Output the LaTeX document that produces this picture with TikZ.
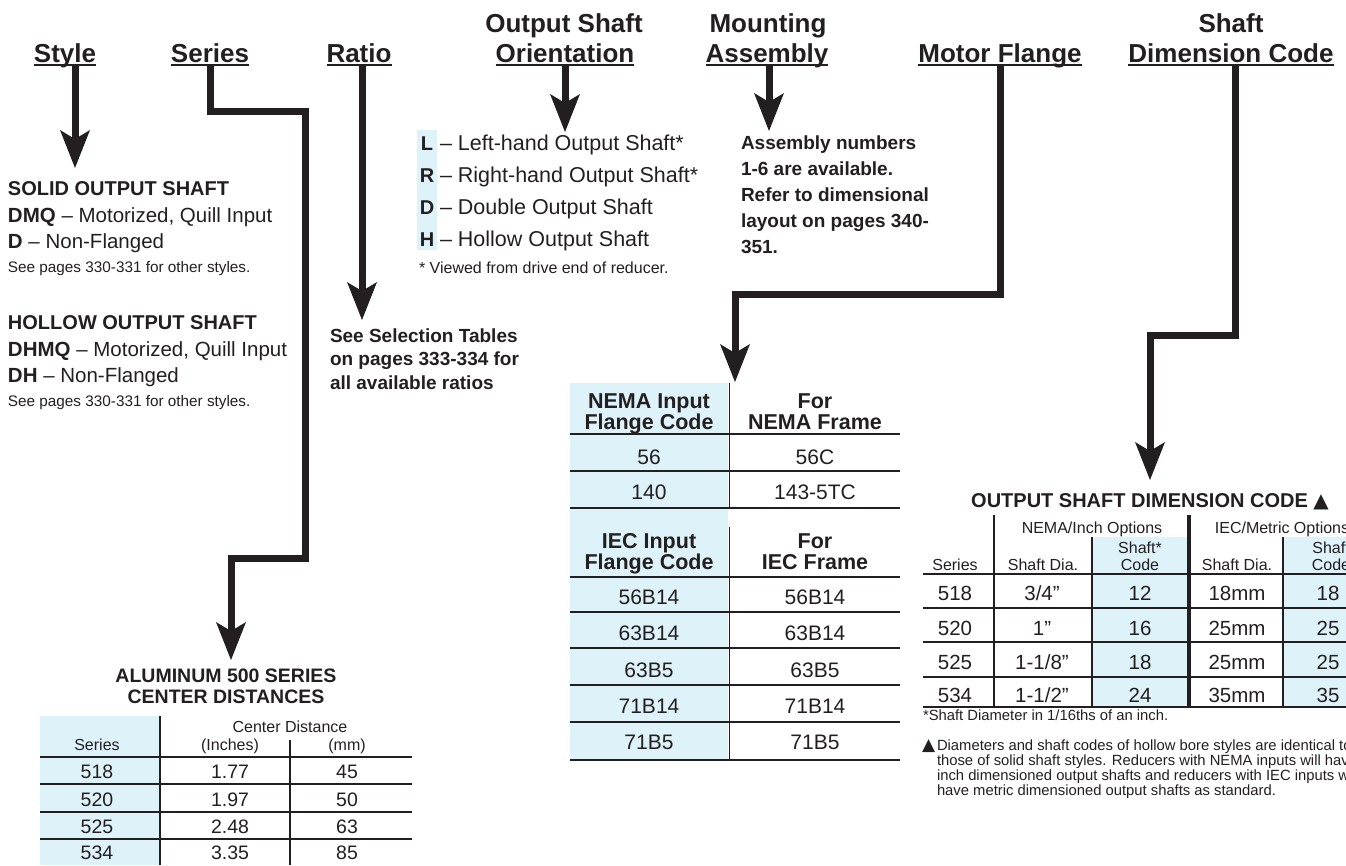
\documentclass[tikz,border=0pt]{standalone}
\usepackage{fontspec}
\setmainfont{Liberation Sans}
\newfontfamily\symf{DejaVu Sans}
\usetikzlibrary{arrows.meta}
\definecolor{ink}{RGB}{35,31,32}
\definecolor{lblue}{RGB}{222,242,250}
\tikzset{
  every node/.style={inner sep=0pt,outer sep=0pt,text=ink},
  hd/.style={font=\fontsize{26}{30}\selectfont\bfseries,anchor=base},
  uline/.style={draw=ink,line width=1.6pt},
  conn/.style={draw=ink,line width=7pt,line join=miter,-{Stealth[length=38pt,width=30pt,inset=9pt,line width=0pt]}},
  body/.style={font=\fontsize{20.5}{24}\selectfont,anchor=base west},
  bodyo/.style={font=\fontsize{21.5}{24}\selectfont,anchor=base west},
  bodyb/.style={font=\fontsize{20}{24}\selectfont\bfseries,anchor=base west},
  noteb/.style={font=\fontsize{19}{24}\selectfont\bfseries,anchor=base west},
  smalltxt/.style={font=\fontsize{15.3}{16}\selectfont,anchor=base west},
  viewtxt/.style={font=\fontsize{16}{18}\selectfont,anchor=base west},
  fntxt/.style={font=\fontsize{14.8}{16}\selectfont,anchor=base west},
  th/.style={font=\fontsize{21.5}{24}\selectfont\bfseries,anchor=base},
  td/.style={font=\fontsize{21}{24}\selectfont,anchor=center},
  sh/.style={font=\fontsize{16}{18}\selectfont,anchor=base},
  rd/.style={font=\fontsize{20.5}{24}\selectfont,anchor=center},
  ad/.style={font=\fontsize{19.5}{24}\selectfont,anchor=center},
  ttl/.style={font=\fontsize{19.5}{24}\selectfont\bfseries,anchor=base},
  rulek/.style={draw=ink,line width=2.2pt},
  rulet/.style={draw=ink,line width=1.1pt},
  vline/.style={draw=ink,line width=1.5pt},
}
\begin{document}
\begin{tikzpicture}[x=1pt,y=-1pt]
\useasboundingbox (0,0) rectangle (1346,865);
\begin{scope}
\clip (0,0) rectangle (1346,865);
% light blue fills
\fill[lblue] (417,130) rectangle (437,250);
\fill[lblue] (570,383) rectangle (728,760);
\fill[lblue] (1092,537) rectangle (1187,707);
\fill[lblue] (1283,537) rectangle (1346,707);
\fill[lblue] (40,716) rectangle (160,865);

% headers
\node[hd] (hStyle) at (65,62) {Style};
\node[hd] (hSeries) at (210,62) {Series};
\node[hd] (hRatio) at (359,62) {Ratio};
\node[hd] (hOrientA) at (564,32) {Output Shaft};
\node[hd] (hOrient) at (565,62) {Orientation};
\node[hd] (hAssemA) at (768,32) {Mounting};
\node[hd] (hAssem) at (767,62) {Assembly};
\node[hd] (hMotor) at (1000,62) {Motor Flange};
\node[hd] (hDimA) at (1231,32) {Shaft};
\node[hd] (hDim) at (1231,62) {Dimension Code};
\foreach \n in {hStyle,hSeries,hRatio,hOrient,hAssem,hMotor,hDim}
  \draw[uline] ([yshift=-3pt]\n.base west) -- ([yshift=-3pt]\n.base east);

% connectors
\coordinate (sStyle) at (75,64);   \coordinate (tStyle) at (75,168);
\coordinate (sSeries) at (210,64); \coordinate (bSeriesA) at (305,111);
\coordinate (bSeriesB) at (231,558); \coordinate (tSeries) at (231,660);
\coordinate (sRatio) at (362,64);  \coordinate (tRatio) at (362,320);
\coordinate (sOrient) at (565,64); \coordinate (tOrient) at (565,132);
\coordinate (sAssem) at (769,64);  \coordinate (tAssem) at (769,131);
\coordinate (sMotor) at (1000,64); \coordinate (bMotor) at (735,294);
\coordinate (tMotor) at (735,382);
\coordinate (sDim) at (1235,64);   \coordinate (bDim) at (1150,335);
\coordinate (tDim) at (1150,480);
\draw[conn] (sStyle) -- (tStyle);
\draw[conn] (sSeries) |- (bSeriesA) |- (bSeriesB) -- (tSeries);
\draw[conn] (sRatio) -- (tRatio);
\draw[conn] (sOrient) -- (tOrient);
\draw[conn] (sAssem) -- (tAssem);
\draw[conn] (sMotor) |- (bMotor) -- (tMotor);
\draw[conn] (sDim) |- (bDim) -- (tDim);

% style block
\node[bodyb] (solidT) at (8,195) {SOLID OUTPUT SHAFT};
\node[body] (solid1) at (8,222) {\textbf{DMQ} – Motorized, Quill Input};
\node[body] (solid2) at (8,248) {\textbf{D} – Non-Flanged};
\node[smalltxt] (solid3) at (8,272) {See pages 330-331 for other styles.};
\node[bodyb] (hollowT) at (8,329) {HOLLOW OUTPUT SHAFT};
\node[body] (hollow1) at (8,356) {\textbf{DHMQ} – Motorized, Quill Input};
\node[body] (hollow2) at (8,382) {\textbf{DH} – Non-Flanged};
\node[smalltxt] (hollow3) at (8,406) {See pages 330-331 for other styles.};

% orientation block
\node[bodyb,anchor=base] (oL) at (427,150) {L};
\node[bodyo] (oLt) at (440,150) {– Left-hand Output Shaft*};
\node[bodyb,anchor=base] (oR) at (427,182) {R};
\node[bodyo] (oRt) at (440,182) {– Right-hand Output Shaft*};
\node[bodyb,anchor=base] (oD) at (427,214) {D};
\node[bodyo] (oDt) at (440,214) {– Double Output Shaft};
\node[bodyb,anchor=base] (oH) at (427,246) {H};
\node[bodyo] (oHt) at (440,246) {– Hollow Output Shaft};
\node[viewtxt] (oNote) at (419,273) {* Viewed from drive end of reducer.};

% ratio block
\node[noteb] (r1) at (330,342) {See Selection Tables};
\node[noteb] (r2) at (330,365.5) {on pages 333-334 for};
\node[noteb] (r3) at (330,389) {all available ratios};

% assembly block
\node[noteb] (a1) at (741,149) {Assembly numbers};
\node[noteb] (a2) at (741,175) {1-6 are available.};
\node[noteb] (a3) at (741,201) {Refer to dimensional};
\node[noteb] (a4) at (741,227) {layout on pages 340-};
\node[noteb] (a5) at (741,253) {351.};

% flange table
\node[th] (n1a) at (649,408) {NEMA Input};
\node[th] (n1b) at (649,429) {Flange Code};
\node[th] (n2a) at (815,408) {For};
\node[th] (n2b) at (815,429) {NEMA Frame};
\node[td] (n56) at (649,457) {56};
\node[td] (n56c) at (815,457) {56C};
\node[td] (n140) at (649,492) {140};
\node[td] (n143) at (815,492) {143-5TC};
\node[th] (i1a) at (649,548) {IEC Input};
\node[th] (i1b) at (649,569) {Flange Code};
\node[th] (i2a) at (815,548) {For};
\node[th] (i2b) at (815,569) {IEC Frame};
\node[td] (iA1) at (649,597) {56B14}; \node[td] (iA2) at (815,597) {56B14};
\node[td] (iB1) at (649,633) {63B14}; \node[td] (iB2) at (815,633) {63B14};
\node[td] (iC1) at (649,670) {63B5};  \node[td] (iC2) at (815,670) {63B5};
\node[td] (iD1) at (649,706) {71B14}; \node[td] (iD2) at (815,706) {71B14};
\node[td] (iE1) at (649,742) {71B5};  \node[td] (iE2) at (815,742) {71B5};
\draw[rulek] (570,434) -- (900,434);
\draw[rulet] (570,471) -- (900,471);
\draw[rulek] (570,508) -- (900,508);
\draw[rulek] (570,577) -- (900,577);
\foreach \yy in {612,648,685,722} \draw[rulet] (570,\yy) -- (900,\yy);
\draw[rulek] (570,760) -- (900,760);
\draw[vline] (729.5,383) -- (729.5,508);
\draw[vline] (729.5,527) -- (729.5,760);

% shaft dimension table
\node[bodyb,anchor=base] (dTitle) at (1150,507) {OUTPUT SHAFT DIMENSION CODE {\symf ▲}};
\draw[vline] (994,515) -- (994,707);
\draw[draw=ink,line width=4.5pt] (1189,515) -- (1189,707);
\draw[vline] (1092,537) -- (1092,707);
\draw[vline] (1283,537) -- (1283,707);
\draw[rulek] (923,574) -- (1346,574);
\foreach \yy in {608,642,677,707} \draw[draw=ink,line width=1.4pt] (923,\yy) -- (1346,\yy);
\node[sh] (dH1) at (1092,533) {NEMA/Inch Options};
\node[sh] (dH2) at (1282,533) {IEC/Metric Options};
\node[sh] (dS) at (955,570) {Series};
\node[sh] (dSD1) at (1043,570) {Shaft Dia.};
\node[sh] (dSC1a) at (1140,553) {Shaft*};
\node[sh] (dSC1b) at (1140,570) {Code};
\node[sh] (dSD2) at (1237,570) {Shaft Dia.};
\node[sh] (dSC2a) at (1331,553) {Shaft};
\node[sh] (dSC2b) at (1331,570) {Code};
\node[rd] (d11) at (955,593) {518}; \node[rd] (d12) at (1042,593) {3/4”};
\node[rd] (d13) at (1140,593) {12};  \node[rd] (d14) at (1237,593) {18mm};
\node[rd] (d15) at (1328,593) {18};
\node[rd] (d21) at (955,628) {520}; \node[rd] (d22) at (1042,628) {1”};
\node[rd] (d23) at (1140,628) {16};  \node[rd] (d24) at (1237,628) {25mm};
\node[rd] (d25) at (1328,628) {25};
\node[rd] (d31) at (955,662) {525}; \node[rd] (d32) at (1042,662) {1-1/8”};
\node[rd] (d33) at (1140,662) {18};  \node[rd] (d34) at (1237,662) {25mm};
\node[rd] (d35) at (1328,662) {25};
\node[rd] (d41) at (955,695) {534}; \node[rd] (d42) at (1042,695) {1-1/2”};
\node[rd] (d43) at (1140,695) {24};  \node[rd] (d44) at (1237,695) {35mm};
\node[rd] (d45) at (1328,695) {35};
\node[fntxt] (fn1) at (923,720) {*Shaft Diameter in 1/16ths of an inch.};
\node[fntxt] (fnTri) at (922,750) {\symf\fontsize{17}{18}\selectfont ▲};
\node[fntxt] (fn2) at (937,750) {Diameters and shaft codes of hollow bore styles are identical to};
\node[fntxt] (fn3) at (937,765) {those of solid shaft styles. Reducers with NEMA inputs will have};
\node[fntxt] (fn4) at (937,780) {inch dimensioned output shafts and reducers with IEC inputs will};
\node[fntxt] (fn5) at (937,795) {have metric dimensioned output shafts as standard.};

% aluminum table
\node[ttl] (aT1) at (226,682) {ALUMINUM 500 SERIES};
\node[ttl] (aT2) at (226,703) {CENTER DISTANCES};
\draw[vline] (160,716) -- (160,865);
\draw[vline] (290,740) -- (290,865);
\draw[rulek] (40,757) -- (412,757);
\foreach \yy in {784,812,839} \draw[rulet] (40,\yy) -- (412,\yy);
\node[sh] (aH1) at (290,732) {Center Distance};
\node[sh] (aH2) at (230,750) {(Inches)};
\node[sh] (aH3) at (347,750) {(mm)};
\node[sh] (aH0) at (97,750) {Series};
\node[ad] (a11) at (97,772) {518}; \node[ad] (a12) at (230,772) {1.77}; \node[ad] (a13) at (347,772) {45};
\node[ad] (a21) at (97,800) {520}; \node[ad] (a22) at (230,800) {1.97}; \node[ad] (a23) at (347,800) {50};
\node[ad] (a31) at (97,827) {525}; \node[ad] (a32) at (230,827) {2.48}; \node[ad] (a33) at (347,827) {63};
\node[ad] (a41) at (97,853) {534}; \node[ad] (a42) at (230,853) {3.35}; \node[ad] (a43) at (347,853) {85};
\end{scope}
\end{tikzpicture}
\end{document}
